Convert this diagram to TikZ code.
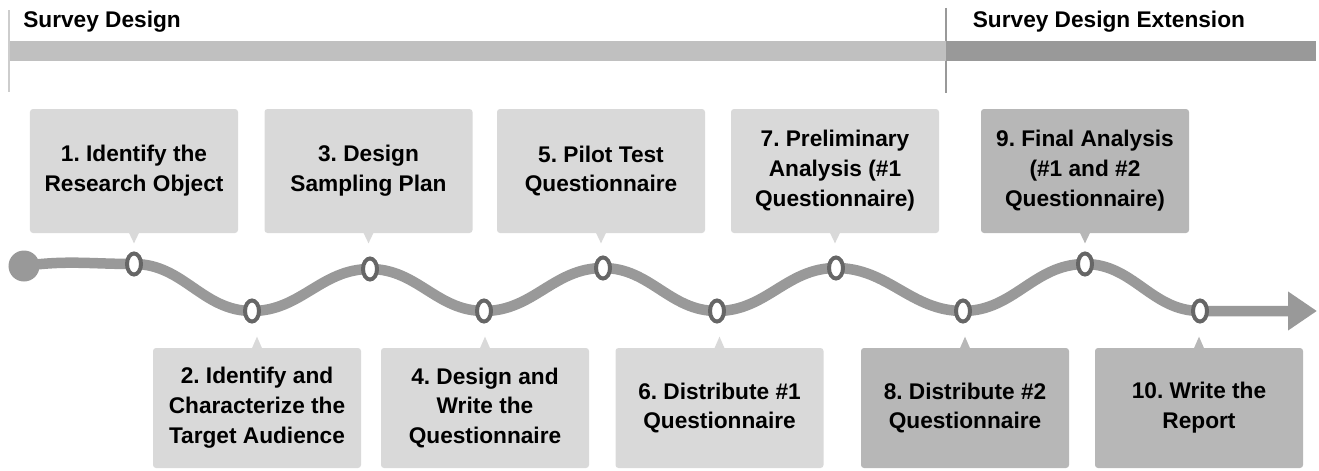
\documentclass[tikz,border=0pt]{standalone}
\usepackage{fontspec}
\setmainfont{Liberation Sans}
\frenchspacing
\usepackage{tikz}
\usetikzlibrary{backgrounds}
\usetikzlibrary{arrows.meta}
\usetikzlibrary{shapes.geometric}
\definecolor{boxLight}{HTML}{D9D9D9}
\definecolor{boxDark}{HTML}{B7B7B7}
\definecolor{waveGray}{HTML}{999999}
\definecolor{markGray}{HTML}{666666}
\definecolor{barLight}{HTML}{C0C0C0}
\definecolor{barDark}{HTML}{999999}
\tikzset{stepBox/.style={fill=boxLight, rounded corners=1.7pt, minimum width=4.16cm, minimum height=2.48cm, align=center, inner sep=0pt, font=\bfseries\fontsize{12.9}{17}\selectfont}}
\tikzset{stepBoxLow/.style={stepBox, minimum height=2.4cm}}
\tikzset{stepBoxExt/.style={stepBox, fill=boxDark}}
\tikzset{stepBoxLowExt/.style={stepBoxLow, fill=boxDark}}
\tikzset{wayPoint/.style={ellipse, draw=markGray, line width=0.08cm, fill=white, minimum width=0.28cm, minimum height=0.42cm, inner sep=0pt}}
\tikzset{startDot/.style={circle, fill=waveGray, minimum size=0.62cm, inner sep=0pt}}
\tikzset{wave/.style={draw=waveGray, line width=0.21cm}}
\tikzset{phaseTitle/.style={anchor=base west, inner sep=0pt, font=\bfseries\fontsize{12.9}{15}\selectfont}}

\begin{document}
\begin{tikzpicture}

\useasboundingbox (0, 0) rectangle (26.38, 9.4);

\draw [color=barLight!80, line width=0.03cm] (0.18, 9.2) -- (0.18, 7.56);
\draw [color=barDark, line width=0.03cm] (18.92, 9.24) -- (18.92, 7.54);
\fill [barLight] (0.2, 8.18) rectangle (18.92, 8.58);
\fill [barDark] (18.92, 8.18) rectangle (26.32, 8.58);

\node[phaseTitle] (t1) at (0.46, 8.84) {Survey Design};
\node[phaseTitle] (t2) at (19.45, 8.84) {Survey Design Extension};

\node[stepBox] (s1) at (2.68, 5.98) {1. Identify the\\Research Object};
\node[stepBox] (s3) at (7.37, 5.98) {3. Design\\Sampling Plan};
\node[stepBox] (s5) at (12.02, 5.98) {5. Pilot Test\\Questionnaire};
\node[stepBox] (s7) at (16.70, 5.98) {7. Preliminary\\Analysis (\#1\\Questionnaire)};
\node[stepBoxExt] (s9) at (21.70, 5.98) {9. Final Analysis\\(\#1 and \#2\\Questionnaire)};

\fill[boxLight] (s1.south) +(-0.1, 0.01) -- +(0, -0.2) -- +(0.1, 0.01) -- cycle;
\fill[boxLight] (s3.south) +(-0.1, 0.01) -- +(0, -0.2) -- +(0.1, 0.01) -- cycle;
\fill[boxLight] (s5.south) +(-0.1, 0.01) -- +(0, -0.2) -- +(0.1, 0.01) -- cycle;
\fill[boxLight] (s7.south) +(-0.1, 0.01) -- +(0, -0.2) -- +(0.1, 0.01) -- cycle;
\fill[boxDark] (s9.south) +(-0.1, 0.01) -- +(0, -0.2) -- +(0.1, 0.01) -- cycle;

\node[stepBoxLow] (s2) at (5.14, 1.24) {2. Identify and\\Characterize the\\Target Audience};
\node[stepBoxLow] (s4) at (9.70, 1.24) {4. Design and\\Write the\\Questionnaire};
\node[stepBoxLow] (s6) at (14.39, 1.24) {6. Distribute \#1\\Questionnaire};
\node[stepBoxLowExt] (s8) at (19.30, 1.24) {8. Distribute \#2\\Questionnaire};
\node[stepBoxLowExt] (s10) at (23.98, 1.24) {10. Write the\\Report};

\fill[boxLight] (s2.north) +(-0.1, -0.01) -- +(0, 0.22) -- +(0.1, -0.01) -- cycle;
\fill[boxLight] (s4.north) +(-0.1, -0.01) -- +(0, 0.22) -- +(0.1, -0.01) -- cycle;
\fill[boxLight] (s6.north) +(-0.1, -0.01) -- +(0, 0.22) -- +(0.1, -0.01) -- cycle;
\fill[boxDark] (s8.north) +(-0.1, -0.01) -- +(0, 0.22) -- +(0.1, -0.01) -- cycle;
\fill[boxDark] (s10.north) +(-0.1, -0.01) -- +(0, 0.22) -- +(0.1, -0.01) -- cycle;

\node[startDot] (w0) at (0.48, 4.08) {};
\node[wayPoint] (w1) at (2.68, 4.12) {};
\node[wayPoint] (w2) at (5.04, 3.18) {};
\node[wayPoint] (w3) at (7.40, 4.02) {};
\node[wayPoint] (w4) at (9.68, 3.18) {};
\node[wayPoint] (w5) at (12.06, 4.04) {};
\node[wayPoint] (w6) at (14.34, 3.18) {};
\node[wayPoint] (w7) at (16.72, 4.04) {};
\node[wayPoint] (w8) at (19.26, 3.18) {};
\node[wayPoint] (w9) at (21.70, 4.12) {};
\node[wayPoint] (w10) at (24.00, 3.18) {};
\coordinate (wEnd) at (26.34, 3.18);

\begin{scope}[on background layer]
\draw[wave, -{Triangle[length=0.58cm, width=0.74cm]}] (w0.center) to[out=8, in=180] (w1.center)
  to[out=0, in=180] (w2.center) to[out=0, in=180] (w3.center)
  to[out=0, in=180] (w4.center) to[out=0, in=180] (w5.center)
  to[out=0, in=180] (w6.center) to[out=0, in=180] (w7.center)
  to[out=0, in=180] (w8.center) to[out=0, in=180] (w9.center)
  to[out=0, in=180] (w10.center) -- (wEnd);
\end{scope}

\end{tikzpicture}
\end{document}
